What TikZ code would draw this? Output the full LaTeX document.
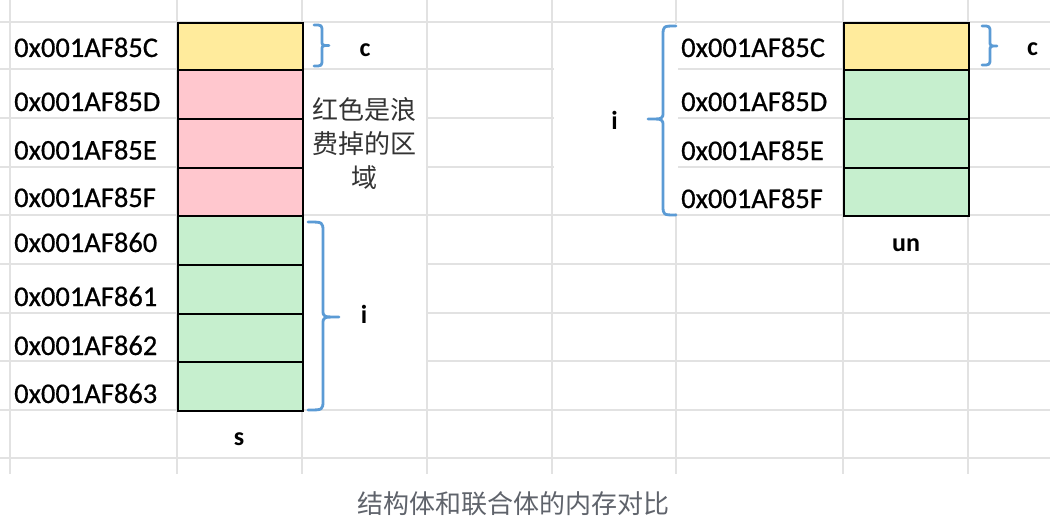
\documentclass[tikz,border=0pt]{standalone}
\usepackage{fontspec}
\setmainfont{Carlito}
\newfontfamily\addrfont[FakeBold=0.6]{Carlito}
\newfontfamily\cjk{Noto Sans CJK SC}
\definecolor{gridc}{RGB}{226,226,226}
\definecolor{ylw}{RGB}{255,235,156}
\definecolor{pnk}{RGB}{255,199,206}
\definecolor{grn}{RGB}{198,239,206}
\definecolor{brc}{RGB}{91,155,213}
\definecolor{capc}{RGB}{95,99,107}
\definecolor{cjkc}{RGB}{51,51,51}
\begin{document}
\begin{tikzpicture}[x=1pt,y=-1pt,
  gridline/.style={draw=gridc,line width=1.5},
  cover/.style={fill=white},
  cell/.style={draw=black,line width=2,minimum width=125,minimum height=#1,inner sep=0,anchor=north west},
  addr/.style={anchor=base west,inner sep=0,font=\addrfont\fontsize{28.5}{32}\selectfont},
  lbl/.style={anchor=base,inner sep=0,font=\fontsize{26}{30}\selectfont\bfseries},
  brace/.style={draw=brc,line width=2.8,line cap=round,line join=round}]
\useasboundingbox (0,0) rectangle (1050,527);
\fill[white] (0,0) rectangle (1050,527);
% spreadsheet grid
\foreach \y in {22,69,118,167,215,264,313,361,410,458}
  \draw[gridline] (0,\y) -- (1050,\y);
\foreach \x in {10,177,302,427,552,676,843,968}
  \draw[gridline] (\x,0) -- (\x,474);
% white areas behind annotations
\fill[cover] (303.5,71) rectangle (425.5,197);
\fill[cover] (303.5,217) rectangle (425.5,408);
\fill[cover] (553.5,24) rectangle (678,213);
% struct s cells
\node[cell=47,fill=ylw] (s0) at (177,22) {};
\node[cell=49,fill=pnk] (s1) at (177,69) {};
\node[cell=49,fill=pnk] (s2) at (177,118) {};
\node[cell=48,fill=pnk] (s3) at (177,167) {};
\node[cell=49,fill=grn] (s4) at (177,215) {};
\node[cell=49,fill=grn] (s5) at (177,264) {};
\node[cell=48,fill=grn] (s6) at (177,313) {};
\node[cell=49,fill=grn] (s7) at (177,361) {};
% union un cells
\node[cell=47,fill=ylw] (u0) at (843,22) {};
\node[cell=49,fill=grn] (u1) at (843,69) {};
\node[cell=49,fill=grn] (u2) at (843,118) {};
\node[cell=48,fill=grn] (u3) at (843,167) {};
% addresses, struct
\node[addr] (as0) at (14,57) {0x001AF85C};
\node[addr] (as1) at (14,111) {0x001AF85D};
\node[addr] (as2) at (14,159.5) {0x001AF85E};
\node[addr] (as3) at (14,207) {0x001AF85F};
\node[addr] (as4) at (14,252) {0x001AF860};
\node[addr] (as5) at (14,306) {0x001AF861};
\node[addr] (as6) at (14,355) {0x001AF862};
\node[addr] (as7) at (14,403) {0x001AF863};
% addresses, union
\node[addr] (au0) at (681,57) {0x001AF85C};
\node[addr] (au1) at (681,111) {0x001AF85D};
\node[addr] (au2) at (681,160) {0x001AF85E};
\node[addr] (au3) at (681,208) {0x001AF85F};
% member labels
\node[lbl] (lc1) at (365,57) {c};
\node[lbl] (li1) at (364,323) {i};
\node[lbl] (ls) at (239,445) {s};
\node[lbl] (li2) at (614.5,129) {i};
\node[lbl] (lc2) at (1032.5,56) {c};
\node[lbl] (lun) at (906,251) {un};
% note
\node[align=center,inner sep=0,text=cjkc,font=\cjk\fontsize{26}{34}\selectfont] (note) at (364.5,144) {红色是浪\\费掉的区\\域};
% braces
\draw[brace] (314,25) .. controls (322,25) .. (322,32) -- (322,40.5) .. controls (322,45.5) .. (329,45.5) .. controls (322,45.5) .. (322,50.5) -- (322,59) .. controls (322,66) .. (314,66);
\draw[brace] (308,222) .. controls (323,222) .. (323,232) -- (323,310) .. controls (323,317) .. (339,317) .. controls (323,317) .. (323,324) -- (323,400) .. controls (323,410) .. (308,410);
\draw[brace] (676,26) .. controls (663,26) .. (663,36) -- (663,112) .. controls (663,119) .. (648,119) .. controls (663,119) .. (663,126) -- (663,205) .. controls (663,215) .. (676,215);
\draw[brace] (982,26) .. controls (990,26) .. (990,33) -- (990,41) .. controls (990,46) .. (997,46) .. controls (990,46) .. (990,51) -- (990,58) .. controls (990,65) .. (982,65);
% caption
\node[inner sep=0,text=capc,font=\cjk\fontsize{26}{30}\selectfont] (cap) at (513.5,504) {结构体和联合体的内存对比};
\end{tikzpicture}
\end{document}
